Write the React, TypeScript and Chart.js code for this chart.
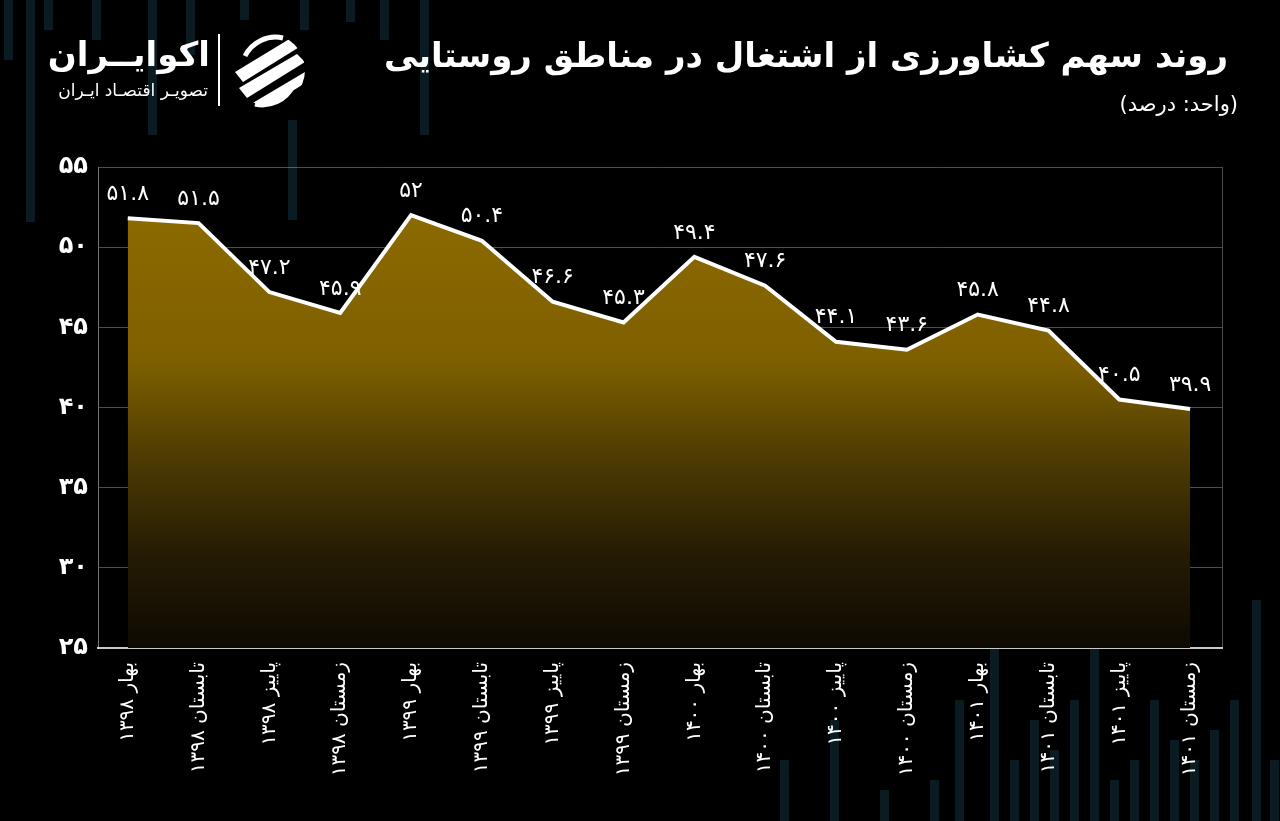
import React, { useEffect, useRef } from "react";
import { Chart, registerables } from "chart.js";

Chart.register(...registerables);

const categories = [
  "بهار ۱۳۹۸", "تابستان ۱۳۹۸", "پاییز ۱۳۹۸", "زمستان ۱۳۹۸",
  "بهار ۱۳۹۹", "تابستان ۱۳۹۹", "پاییز ۱۳۹۹", "زمستان ۱۳۹۹",
  "بهار ۱۴۰۰", "تابستان ۱۴۰۰", "پاییز ۱۴۰۰", "زمستان ۱۴۰۰",
  "بهار ۱۴۰۱", "تابستان ۱۴۰۱", "پاییز ۱۴۰۱", "زمستان ۱۴۰۱",
];
const shareValues = [51.8, 51.5, 47.2, 45.9, 52, 50.4, 46.6, 45.3, 49.4, 47.6, 44.1, 43.6, 45.8, 44.8, 40.5, 39.9];
const yTickValues = [25, 30, 35, 40, 45, 50, 55];

const TITLE = "روند سهم کشاورزی از اشتغال در مناطق روستایی";
const SUBTITLE = "(واحد: درصد)";
const FONT = "'DejaVu Sans', sans-serif";

const toFa = (v: number | string) =>
  String(v).replace(/[0-9]/g, (d) => "۰۱۲۳۴۵۶۷۸۹"[Number(d)]);

// decorative background bars: [left, top, height]
const decoTop: number[][] = [
  [4, 0, 60], [26, 0, 222], [44, 0, 30], [92, 0, 40], [148, 0, 135], [186, 0, 55],
  [240, 0, 20], [288, 120, 100], [300, 0, 30], [346, 0, 22], [420, 0, 135], [380, 0, 40],
];
const decoBottom: number[][] = [
  [780, 760, 61], [830, 720, 101], [880, 790, 31], [930, 780, 41], [955, 700, 121],
  [990, 600, 221], [1010, 760, 61], [1030, 720, 101], [1050, 750, 71], [1070, 700, 121],
  [1090, 640, 181], [1110, 780, 41], [1130, 760, 61], [1150, 700, 121], [1170, 740, 81],
  [1190, 760, 61], [1210, 730, 91], [1230, 700, 121], [1252, 600, 221], [1270, 760, 61],
];

export default function App() {
  const canvasRef = useRef<HTMLCanvasElement | null>(null);

  useEffect(() => {
    document.body.style.margin = "0";
    document.body.style.background = "#000";
    const canvas = canvasRef.current;
    if (!canvas) return;

    const labelPlugin = {
      id: "valueLabels",
      afterDatasetsDraw(chart: any) {
        const c = chart.ctx;
        const meta = chart.getDatasetMeta(0);
        const area = chart.chartArea;
        c.save();
        c.strokeStyle = "rgba(255,255,255,0.3)";
        c.lineWidth = 1;
        c.beginPath();
        c.moveTo(Math.round(area.right) + 0.5, area.top);
        c.lineTo(Math.round(area.right) + 0.5, area.bottom);
        c.stroke();
        c.fillStyle = "#fff";
        c.font = `22px ${FONT}`;
        c.textAlign = "center";
        c.textBaseline = "bottom";
        meta.data.forEach((pt: any, i: number) => {
          c.fillText(toFa(shareValues[i]), pt.x, pt.y - 13);
        });
        c.restore();
      },
    };

    const chart = new Chart(canvas, {
      type: "line",
      data: {
        datasets: [
          {
            data: shareValues.map((v, i) => ({ x: i, y: v })),
            borderColor: "#ffffff",
            borderWidth: 4,
            pointRadius: 0,
            tension: 0,
            fill: "start",
            backgroundColor: (ctx: any) => {
              const ch = ctx.chart;
              const area = ch.chartArea;
              if (!area) return "#7e5f00";
              const g = ch.ctx.createLinearGradient(0, area.top, 0, area.bottom);
              g.addColorStop(0, "#906d00");
              g.addColorStop(0.4, "#7f6000");
              g.addColorStop(0.6, "#4f3c03");
              g.addColorStop(0.8, "#261c04");
              g.addColorStop(1, "#0e0a03");
              return g;
            },
          },
        ],
      },
      options: {
        animation: false,
        responsive: false,
        maintainAspectRatio: false,
        layout: { padding: { top: 167, right: 58, left: 0, bottom: 0 } },
        plugins: { legend: { display: false }, tooltip: { enabled: false }, title: { display: false } },
        scales: {
          x: {
            type: "linear",
            min: -0.42,
            max: 15.45,
            afterBuildTicks: (s: any) => {
              s.ticks = categories.map((_, i) => ({ value: i }));
            },
            afterFit: (s: any) => {
              s.height = 173;
            },
            ticks: {
              autoSkip: false,
              minRotation: 90,
              maxRotation: 90,
              color: "#ffffff",
              padding: 6,
              font: { size: 20, family: FONT },
              callback: (v: any) => categories[v as number] ?? "",
            },
            grid: { display: false },
            border: { display: true, color: "#c9c9c9", width: 2 },
          },
          y: {
            min: 25,
            max: 55,
            afterBuildTicks: (s: any) => {
              s.ticks = yTickValues.map((v) => ({ value: v }));
            },
            afterFit: (s: any) => {
              s.width = 98;
            },
            ticks: {
              color: "#ffffff",
              padding: 10,
              font: { size: 24, weight: "bold", family: FONT },
              callback: (v: any) => toFa(v),
            },
            grid: { color: "rgba(255,255,255,0.3)", lineWidth: 1, drawTicks: false },
            border: { display: true, color: "rgba(255,255,255,0.45)", width: 1 },
          },
        },
      },
      plugins: [labelPlugin],
    } as any);

    return () => chart.destroy();
  }, []);

  const barStyle = (b: number[]): React.CSSProperties => ({
    position: "absolute",
    left: b[0],
    top: b[1],
    width: 9,
    height: b[2],
    background: "#0a1b21",
  });

  return (
    <div style={{ position: "relative", width: 1280, height: 821, background: "#000", overflow: "hidden", fontFamily: FONT }}>
      {decoTop.map((b, i) => <div key={"t" + i} style={barStyle(b)} />)}
      {decoBottom.map((b, i) => <div key={"b" + i} style={barStyle(b)} />)}
      <canvas ref={canvasRef} width={1280} height={821} style={{ position: "absolute", left: 0, top: 0 }} />
      <div dir="rtl" style={{ position: "absolute", right: 52, top: 35, color: "#fff", fontSize: 34, fontWeight: "bold", whiteSpace: "nowrap" }}>
        {TITLE}
      </div>
      <div dir="rtl" style={{ position: "absolute", right: 42, top: 92, color: "#fff", fontSize: 21, whiteSpace: "nowrap" }}>
        {SUBTITLE}
      </div>
      <div dir="rtl" style={{ position: "absolute", right: 1280 - 210, top: 34, color: "#fff", fontSize: 34, fontWeight: "bold", whiteSpace: "nowrap" }}>
        اکوایــران
      </div>
      <div dir="rtl" style={{ position: "absolute", right: 1280 - 208, top: 80, color: "#fff", fontSize: 17, whiteSpace: "nowrap" }}>
        تصویـر اقتصـاد ایـران
      </div>
      <div style={{ position: "absolute", left: 218, top: 34, width: 2, height: 72, background: "#fff" }} />
      <svg width={76} height={76} viewBox="0 0 76 76" style={{ position: "absolute", left: 231, top: 32 }}>
        <defs>
          <clipPath id="logoClip">
            <circle cx="38" cy="38" r="36" />
          </clipPath>
        </defs>
        <g clipPath="url(#logoClip)" fill="#fff">
          <path d="M4 40 L60 6 L70 14 L12 50 Z" />
          <path d="M8 56 L66 22 L74 30 L16 66 Z" />
          <path d="M20 72 L74 40 L76 50 L30 78 Z" />
        </g>
        <path d="M14 24 A34 34 0 0 1 52 6" stroke="#fff" strokeWidth="5" fill="none" />
        <path d="M62 54 A34 34 0 0 1 24 72" stroke="#fff" strokeWidth="5" fill="none" />
      </svg>
    </div>
  );
}
